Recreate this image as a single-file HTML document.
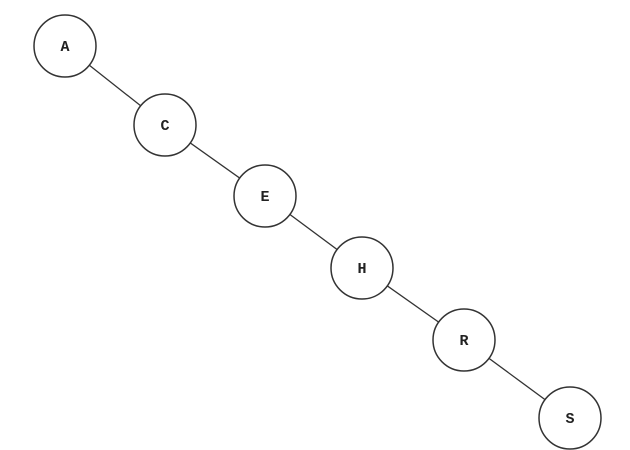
<!DOCTYPE html>
<html><head><meta charset="utf-8"><style>
html,body{margin:0;padding:0;background:#fff;}
svg{display:block;}
text{font-family:"Liberation Mono",monospace;font-size:15px;font-weight:bold;fill:#222;}
</style></head><body>
<svg id="tree" width="630" height="450" viewBox="0 0 630 450"></svg>
<script>
const labels = ["A","C","E","H","R","S"];
const nodeX = [65,165,265,362,464,570];
const nodeY = [46,125,196,268,340,418];
const R = 31;
const svg = document.getElementById('tree');
const ns = 'http://www.w3.org/2000/svg';
for (let i = 0; i < labels.length - 1; i++) {
  const l = document.createElementNS(ns, 'line');
  
  
  l.setAttribute('x1', nodeX[i]); l.setAttribute('y1', nodeY[i]);
  l.setAttribute('x2', nodeX[i+1]); l.setAttribute('y2', nodeY[i+1]);
  l.setAttribute('stroke', '#333'); l.setAttribute('stroke-width', '1.3');
  svg.appendChild(l);
}
for (let i = 0; i < labels.length; i++) {
  const g = document.createElementNS(ns, 'g');
  
  
  const c = document.createElementNS(ns, 'circle');
  c.setAttribute('cx', nodeX[i]); c.setAttribute('cy', nodeY[i]); c.setAttribute('r', R);
  c.setAttribute('fill', '#fff'); c.setAttribute('stroke', '#333'); c.setAttribute('stroke-width', '1.5');
  g.appendChild(c);
  const t = document.createElementNS(ns, 'text');
  t.setAttribute('x', nodeX[i]); t.setAttribute('y', nodeY[i] + 5);
  t.setAttribute('text-anchor', 'middle');
  t.textContent = labels[i];
  g.appendChild(t);
  svg.appendChild(g);
}
</script>
</body></html>
